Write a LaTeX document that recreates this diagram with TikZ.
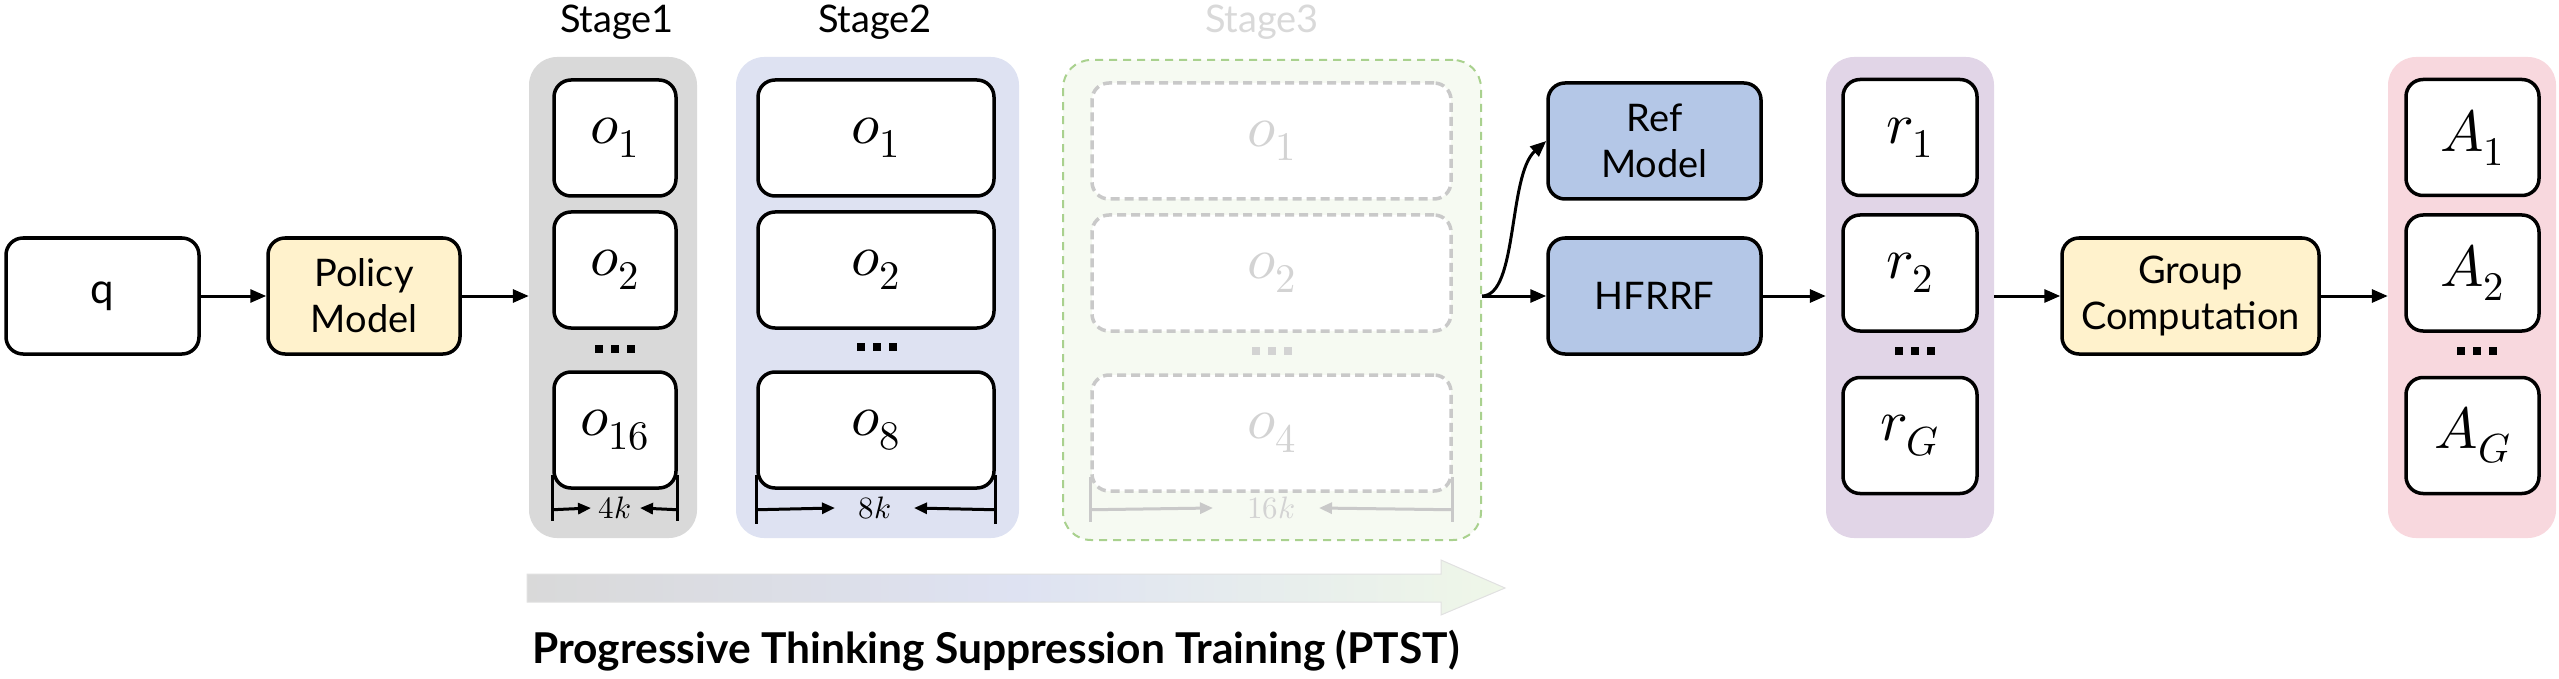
\documentclass[tikz,border=0pt]{standalone}
\usepackage{fontspec}
\usepackage{unicode-math}
\setmainfont{Lato}
\setmathfont{Latin Modern Math}
\usetikzlibrary{arrows.meta,calc}

\definecolor{ylw}{HTML}{FFF2CC}
\definecolor{blu}{HTML}{B4C7E7}
\definecolor{sonebg}{HTML}{D9D9D9}
\definecolor{stwobg}{HTML}{DEE2F2}
\definecolor{sthreebg}{HTML}{F6FAF2}
\definecolor{sthreeedge}{HTML}{A9D18E}
\definecolor{ghost}{HTML}{C9C9C9}
\definecolor{ghosttext}{HTML}{D3D3D3}
\definecolor{rbg}{HTML}{E1D5E7}
\definecolor{abg}{HTML}{F8D8DE}
\definecolor{arrowend}{HTML}{EFF7E8}

\newcommand{\sqdots}[3]{%
  \fill[#3] (#1-20,#2-4) rectangle (#1-12,#2+4);
  \fill[#3] (#1-4,#2-4) rectangle (#1+4,#2+4);
  \fill[#3] (#1+12,#2-4) rectangle (#1+20,#2+4);}

\begin{document}
\begin{tikzpicture}[x=1pt,y=-1pt,
  box/.style={draw=black, line width=3.5pt, rounded corners=17pt, fill=white,
    inner sep=0pt, align=center, minimum height=116pt},
  txt/.style={font=\fontsize{38}{46}\selectfont},
  mth/.style={font=\fontsize{58}{66}\selectfont},
  ghostbox/.style={draw=ghost, line width=3.5pt, dash pattern=on 9pt off 5pt,
    rounded corners=17pt, fill=white, inner sep=0pt, minimum height=116pt,
    text=ghosttext},
  bgbox/.style={rounded corners=28pt, inner sep=0pt, minimum height=481pt},
  arr/.style={line width=3pt, -{Triangle[length=16pt,width=13pt]}},
  dimline/.style={line width=3pt},
  dimarr/.style={line width=3pt, -{Triangle[length=13pt,width=11pt]}},
  lbl/.style={font=\fontsize{38}{46}\selectfont, anchor=base},
  dimlbl/.style={font=\fontsize{31}{34}\selectfont, inner sep=0pt}
]
\useasboundingbox (0,0) rectangle (2559,679);

% ---- left part
\node[box, txt, minimum width=193pt, font=\fontsize{42}{46}\selectfont] (q) at (102.5,296) {q};
\node[box, txt, fill=ylw, minimum width=192pt] (pol) at (364,296) {Policy\\Model};

% ---- stage backgrounds
\node[bgbox, fill=sonebg, minimum width=168pt] (s1bg) at (613,297.5) {};
\node[bgbox, fill=stwobg, minimum width=283pt] (s2bg) at (877.5,297.5) {};
\node[bgbox, fill=sthreebg, draw=sthreeedge, line width=2pt,
      dash pattern=on 8pt off 6pt, minimum width=418pt, minimum height=480pt] (s3bg) at (1272,300) {};

\node[lbl] (l1) at (617,33) {Stage1};
\node[lbl] (l2) at (875,33) {Stage2};
\node[lbl, text=sonebg] (l3) at (1262,33) {Stage3};

% ---- stage 1 cells
\node[box, mth, minimum width=122pt] (s1a) at (615,138) {$o_{1}$};
\node[box, mth, minimum width=122pt] (s1b) at (615,270) {$o_{2}$};
\node[box, mth, minimum width=122pt] (s1c) at (615,430) {$o_{16}$};
\sqdots{615}{349}{black}

% ---- stage 2 cells
\node[box, mth, minimum width=236pt] (s2a) at (876,138) {$o_{1}$};
\node[box, mth, minimum width=236pt] (s2b) at (876,270) {$o_{2}$};
\node[box, mth, minimum width=236pt] (s2c) at (876,430) {$o_{8}$};
\sqdots{877}{347}{black}

% ---- stage 3 cells
\node[ghostbox, mth, minimum width=359pt] (s3a) at (1271.5,141) {$o_{1}$};
\node[ghostbox, mth, minimum width=359pt] (s3b) at (1271.5,273) {$o_{2}$};
\node[ghostbox, mth, minimum width=359pt] (s3c) at (1271.5,433) {$o_{4}$};
\sqdots{1272}{351}{ghosttext}

% ---- dimension marks
\node[dimlbl] (k4) at (615,508) {$4k$};
\coordinate (k4l) at (591,508);
\coordinate (k4r) at (640,508);
\draw[dimline] ($(s1c.south west)+(0,-15)$) -- ++(0,46);
\draw[dimline] ($(s1c.south east)+(0,-15)$) -- ++(0,46);
\draw[dimarr] ($(s1c.south west)+(0,20)$) -- (k4l);
\draw[dimarr] ($(s1c.south east)+(0,20)$) -- (k4r);

\node[dimlbl] (k8) at (875,508) {$8k$};
\coordinate (k8l) at (835,508);
\coordinate (k8r) at (914,508);
\draw[dimline] ($(s2c.south west)+(0,-15)$) -- ++(0,49);
\draw[dimline] ($(s2c.south east)+(0,-15)$) -- ++(0,49);
\draw[dimarr] ($(s2c.south west)+(0,20)$) -- (k8l);
\draw[dimarr] ($(s2c.south east)+(0,20)$) -- (k8r);

\node[dimlbl, text=ghosttext] (k16) at (1271,508) {$16k$};
\coordinate (k16l) at (1213,508);
\coordinate (k16r) at (1319,508);
\draw[dimline, draw=ghost] ($(s3c.south west)+(0,-16)$) -- ++(0,45);
\draw[dimline, draw=ghost] ($(s3c.south east)+(0,-16)$) -- ++(0,45);
\draw[dimarr, draw=ghost, fill=ghost] ($(s3c.south west)+(0,17)$) -- (k16l);
\draw[dimarr, draw=ghost, fill=ghost] ($(s3c.south east)+(0,17)$) -- (k16r);

% ---- reward side
\node[box, txt, fill=blu, minimum width=213pt] (ref) at (1654.5,141) {Ref\\Model};
\node[box, txt, fill=blu, minimum width=213pt] (hf) at (1654.5,296) {HFRRF};

\node[bgbox, fill=rbg, minimum width=168pt] (rb) at (1910,297.5) {};
\node[box, mth, minimum width=134pt] (r1) at (1910,137.5) {$r_{1}$};
\node[box, mth, minimum width=134pt] (r2) at (1910,273) {$r_{2}$};
\node[box, mth, minimum width=134pt] (rG) at (1910,435.5) {$r_{G}$};
\sqdots{1915}{351}{black}

\node[box, txt, fill=ylw, minimum width=257pt] (grp) at (2190.5,296) {Group\\Computation};

\node[bgbox, fill=abg, minimum width=168pt] (ab) at (2472,297.5) {};
\node[box, mth, minimum width=133pt] (A1) at (2472.5,137.5) {$A_{1}$};
\node[box, mth, minimum width=133pt] (A2) at (2472.5,273) {$A_{2}$};
\node[box, mth, minimum width=133pt] (AG) at (2472.5,435.5) {$A_{G}$};
\sqdots{2477}{351}{black}

% ---- connectors
\draw[arr] (q.east) -- (pol.west);
\draw[arr] (pol.east) -- (pol.east -| s1bg.west);
\coordinate (s3out) at (s3bg.east |- hf.west);
\draw[arr] (s3out) -- (hf.west);
\draw[arr] (s3out) .. controls (1518,296) and (1508,175) .. (ref.west);
\draw[arr] (hf.east) -- (hf.east -| rb.west);
\draw[arr] (rb.east |- grp.west) -- (grp.west);
\draw[arr] (grp.east) -- (grp.east -| ab.west);

% ---- progress arrow
\shade[left color=sonebg, right color=arrowend, middle color=stwobg, draw=sonebg!80, line width=1pt]
  (527,574) -- (1441,574) -- (1441,560) -- (1505,588) -- (1441,615) -- (1441,602) -- (527,602) -- cycle;
\node[font=\bfseries\fontsize{42.5}{48}\selectfont, anchor=base] (cap) at (996,663)
  {Progressive Thinking Suppression Training (PTST)};
\end{tikzpicture}
\end{document}
